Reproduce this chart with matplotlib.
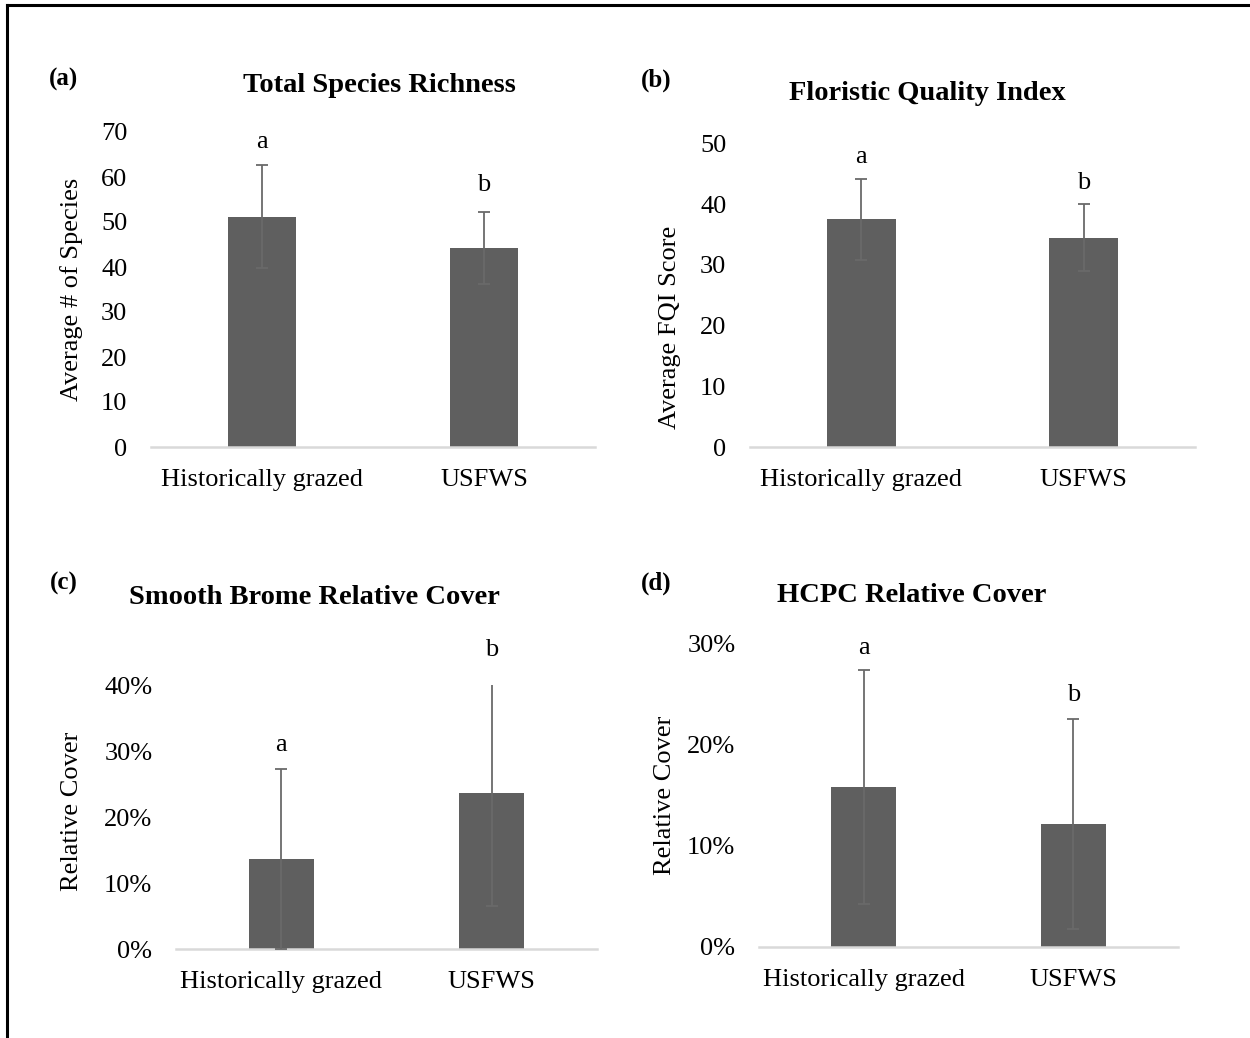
import matplotlib
matplotlib.use("Agg")
import matplotlib.pyplot as plt
from matplotlib.lines import Line2D
from matplotlib.ticker import FuncFormatter

# datos
categorias = ["Historically grazed", "USFWS"]

riqueza = [51.2, 44.2]
riqueza_err = [11.5, 8.0]
riqueza_letras = ["a", "b"]
riqueza_letras_y = [67.8, 58.2]

fqi = [37.5, 34.5]
fqi_err = [6.7, 5.5]
fqi_letras = ["a", "b"]
fqi_letras_y = [47.8, 43.5]

brome = [13.6, 23.6]        # en %
brome_err = [13.6, 17.1]
brome_letras = ["a", "b"]
brome_letras_y = [30.9, 45.3]

hcpc = [15.8, 12.1]         # en %
hcpc_err = [11.6, 10.4]
hcpc_letras = ["a", "b"]
hcpc_letras_y = [29.6, 24.9]

plt.rcParams["font.family"] = ["Liberation Serif", "DejaVu Serif"]

W, H = 1250, 1038
fig = plt.figure(figsize=(W / 100, H / 100), dpi=100)

color_barra = "#5f5f5f"
color_error = "#6a6a6a"


def px(x, y):
    # pixeles -> fraccion de figura
    return x / W, 1 - y / H


def panel(rect, valores, errores, letras, letras_y, ymax, paso, ylabel, ylabel_pos, pct=False):
    ax = fig.add_axes(rect)
    xs = range(len(categorias))
    ax.bar(xs, valores, width=0.31, color=color_barra, zorder=2)
    ax.errorbar(xs, valores, yerr=errores, fmt="none", ecolor=color_error,
                elinewidth=1.3, capsize=4.3, capthick=1.3, zorder=3)
    for x, letra, ly in zip(xs, letras, letras_y):
        ax.text(x, ly, letra, ha="center", va="center", fontsize=19, clip_on=False)
    ax.set_xlim(-0.5, len(categorias) - 0.5)
    ax.set_ylim(0, ymax)
    ax.set_yticks([i * paso for i in range(int(round(ymax / paso)) + 1)])
    if pct:
        ax.yaxis.set_major_formatter(FuncFormatter(lambda v, p: f"{v:.0f}%"))
    ax.set_xticks(list(xs))
    ax.set_xticklabels(categorias)
    ax.tick_params(axis="both", length=0, labelsize=19)
    ax.tick_params(axis="x", pad=16)
    ax.tick_params(axis="y", pad=17)
    for s in ["top", "right", "left"]:
        ax.spines[s].set_visible(False)
    ax.spines["bottom"].set_color("#d9d9d9")
    ax.spines["bottom"].set_linewidth(1.8)
    ax.set_ylabel(ylabel, fontsize=19, va="center")
    ax.yaxis.set_label_coords(*ylabel_pos)
    return ax


# (a)
panel([151 / W, 1 - 447 / H, 444 / W, 315 / H], riqueza, riqueza_err,
      riqueza_letras, riqueza_letras_y, 70, 10, "Average # of Species", (-0.178, 0.5))
# (b)
panel([750 / W, 1 - 447 / H, 445 / W, 303.5 / H], fqi, fqi_err,
      fqi_letras, fqi_letras_y, 50, 10, "Average FQI Score", (-0.18, 0.394))
# (c)
panel([176 / W, 1 - 949 / H, 421 / W, 264 / H], brome, brome_err,
      brome_letras, brome_letras_y, 40, 10, "Relative Cover", (-0.248, 0.52), pct=True)
# (d)
panel([759 / W, 1 - 946.5 / H, 419 / W, 303 / H], hcpc, hcpc_err,
      hcpc_letras, hcpc_letras_y, 30, 10, "Relative Cover", (-0.224, 0.5), pct=True)

# titulos y letras de panel
titulos = [("Total Species Richness", 379, 85), ("Floristic Quality Index", 927, 94),
           ("Smooth Brome Relative Cover", 314, 598), ("HCPC Relative Cover", 912, 596)]
for t, x, y in titulos:
    fig.text(*px(x, y), t, ha="center", va="center", fontsize=20.5, fontweight="bold")

paneles = [("(a)", 64, 79), ("(b)", 656, 80), ("(c)", 64, 583), ("(d)", 656, 583)]
for t, x, y in paneles:
    fig.text(*px(x, y), t, ha="center", va="center", fontsize=18, fontweight="bold")

# marco (solo izquierda y arriba, recortado como el original)
fig.add_artist(Line2D([6.5 / W, 6.5 / W], [0, 1 - 5 / H], color="black", lw=2.2))
fig.add_artist(Line2D([6.5 / W, 1], [1 - 5 / H, 1 - 5 / H], color="black", lw=2.2))

fig.savefig("out.png", dpi=100)
